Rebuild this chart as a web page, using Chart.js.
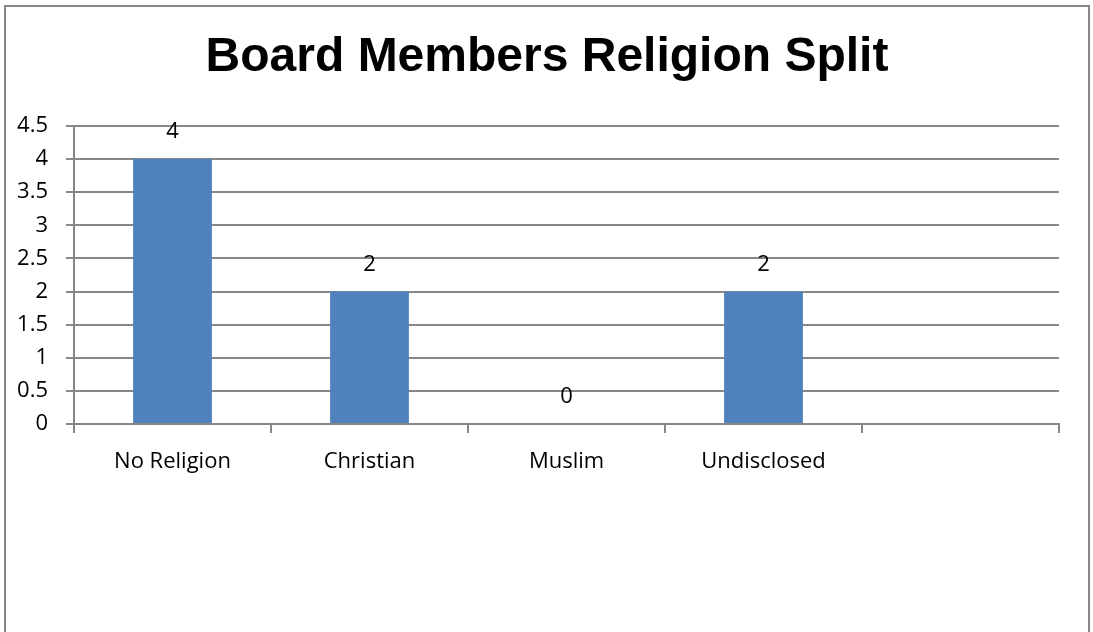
<!DOCTYPE html>
<html>
<head>
<meta charset="utf-8">
<script src="https://cdn.jsdelivr.net/npm/chart.js@4"></script>
<style>
  html, body { margin: 0; padding: 0; background: #fff; overflow: hidden; }
  #frame {
    position: absolute; left: 4px; top: 5px;
    width: 1082px; height: 700px;
    border: 2px solid #878787;
  }
  #chart { position: absolute; left: 0; top: 0; }
</style>
</head>
<body>
<div id="frame"></div>
<canvas id="chart" width="1093" height="632"></canvas>
<script>
// Số liệu
const categories = ['No Religion', 'Christian', 'Muslim', 'Undisclosed', ''];
const members = [4, 2, 0, 2, null];
const yTicks = { min: 0, max: 4.5, step: 0.5 };
const chartTitle = 'Board Members Religion Split';

const gridColor = '#878787';
const tickFont = { family: '"Open Sans", sans-serif', size: 22 };

// Tiêu đề căn giữa theo cả khung, không theo vùng vẽ
const titleDraw = {
    id: 'titleDraw',
    afterDraw(chart) {
        const ctx = chart.ctx;
        ctx.save();
        ctx.font = 'bold 48px "Liberation Sans", Arial, sans-serif';
        ctx.fillStyle = '#000';
        ctx.textAlign = 'center';
        ctx.textBaseline = 'middle';
        ctx.fillText(chartTitle, 547, 58);
        ctx.restore();
    }
};

// Ghi giá trị phía trên mỗi cột
const valueLabels = {
    id: 'valueLabels',
    afterDatasetsDraw(chart) {
        const ctx = chart.ctx;
        const meta = chart.getDatasetMeta(0);
        ctx.save();
        ctx.font = '22px "Open Sans", sans-serif';
        ctx.fillStyle = '#000';
        ctx.textAlign = 'center';
        ctx.textBaseline = 'middle';
        meta.data.forEach((bar, i) => {
            const v = members[i];
            if (v === null || v === undefined) return;
            ctx.fillText(String(v), bar.x, bar.y - 27);
        });
        ctx.restore();
    }
};

const chart = new Chart(document.getElementById('chart').getContext('2d'), {
    type: 'bar',
    data: {
        labels: categories,
        datasets: [{
            data: members,
            backgroundColor: '#4F81BD',
            borderWidth: 0,
            barPercentage: 0.4,
            categoryPercentage: 1
        }]
    },
    options: {
        responsive: false,
        animation: false,
        devicePixelRatio: 1,
        layout: { padding: { left: 0, right: 34, top: 126, bottom: 0 } },
        plugins: {
            legend: { display: false },
            tooltip: { enabled: false },
            title: { display: false }
        },
        scales: {
            x: {
                grid: {
                    offset: true,
                    drawOnChartArea: false,
                    drawTicks: true,
                    tickLength: 9,
                    color: gridColor,
                    lineWidth: 2
                },
                border: { color: gridColor, width: 2 },
                ticks: { color: '#000', font: tickFont, padding: 16, maxRotation: 0, autoSkip: false },
                afterFit(scale) { scale.height = 208; }
            },
            y: {
                min: yTicks.min,
                max: yTicks.max,
                grid: {
                    color: gridColor,
                    lineWidth: 2,
                    drawTicks: true,
                    tickLength: 8
                },
                border: { color: gridColor, width: 2 },
                ticks: {
                    stepSize: yTicks.step,
                    color: '#000',
                    font: tickFont,
                    padding: 18,
                    callback: v => String(Math.round(v * 10) / 10)
                },
                afterFit(scale) { scale.width = 74; }
            }
        }
    },
    plugins: [valueLabels, titleDraw]
});
</script>
</body>
</html>
